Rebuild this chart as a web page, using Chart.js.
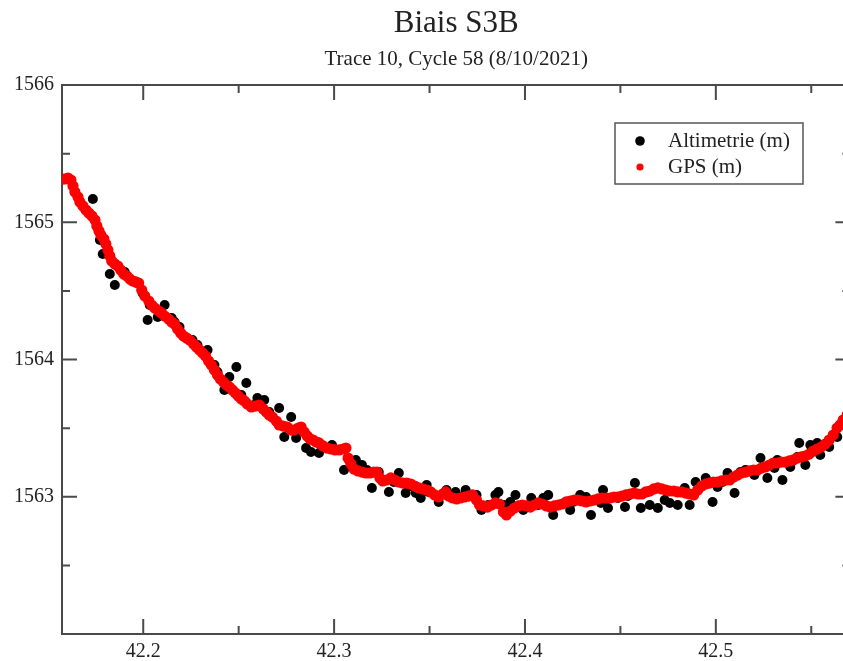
<!DOCTYPE html>
<html>
<head>
<meta charset="utf-8">
<title>Biais S3B</title>
<script src="https://cdn.jsdelivr.net/npm/chart.js@4/dist/chart.umd.min.js"></script>
<style>
  html,body{margin:0;padding:0;background:#fff;overflow:hidden;}
  #wrap{position:relative;width:856px;height:661px;}
</style>
</head>
<body>
<div id="wrap"><canvas id="biais"></canvas></div>
<script>
/* Biais S3B - trace 10, cycle 58 */
const titre = 'Biais S3B';
const sousTitre = 'Trace 10, Cycle 58 (8/10/2021)';
const legendeAlti = 'Altimetrie (m)';
const legendeGps = 'GPS (m)';

const xTicks = [42.2, 42.3, 42.4, 42.5];
const xMinor = [42.25, 42.35, 42.45, 42.55];
const yTicks = [1563, 1564, 1565, 1566];
const yMinor = [1562.5, 1563.5, 1564.5, 1565.5];

// altimetrie (points noirs)
const altiLat = [42.1736,42.1773,42.1788,42.1825,42.1851,42.1903,42.1966,42.1997,42.2023,42.2034,42.2076,42.2112,
  42.2149,42.2164,42.2190,42.2258,42.2284,42.2321,42.2337,42.2373,42.2389,42.2425,42.2451,42.2488,42.2514,42.2540,
  42.2582,42.2598,42.2634,42.2660,42.2712,42.2739,42.2775,42.2801,42.2817,42.2853,42.2879,42.2921,42.2947,42.2989,
  42.3052,42.3078,42.3114,42.3146,42.3172,42.3198,42.3234,42.3261,42.3287,42.3313,42.3339,42.3375,42.3401,42.3428,
  42.3454,42.3485,42.3495,42.3548,42.3589,42.3636,42.3662,42.3689,42.3746,42.3772,42.3809,42.3845,42.3861,42.3887,
  42.3923,42.3950,42.3991,42.4033,42.4070,42.4096,42.4122,42.4148,42.4200,42.4237,42.4252,42.4289,42.4320,42.4346,
  42.4372,42.4398,42.4409,42.4435,42.4487,42.4524,42.4539,42.4576,42.4607,42.4644,42.4654,42.4696,42.4732,42.4759,
  42.4800,42.4837,42.4863,42.4894,42.4905,42.4947,42.4983,42.5009,42.5035,42.5061,42.5098,42.5129,42.5155,42.5166,
  42.5202,42.5234,42.5270,42.5307,42.5322,42.5349,42.5375,42.5390,42.5427,42.5437,42.5469,42.5495,42.5505,42.5531,
  42.5547,42.5573,42.5594,42.5636];
const altiHeight = [1565.169,1564.871,1564.769,1564.623,1564.543,1564.638,1564.557,1564.485,1564.288,1564.397,1564.310,1564.397,
  1564.302,1564.273,1564.237,1564.142,1564.106,1564.047,1564.069,1563.960,1563.909,1563.778,1563.872,1563.945,1563.741,1563.829,
  1563.669,1563.719,1563.705,1563.617,1563.647,1563.435,1563.581,1563.428,1563.486,1563.355,1563.326,1563.319,1563.362,1563.377,
  1563.195,1563.268,1563.268,1563.231,1563.195,1563.064,1563.180,1563.122,1563.035,1563.107,1563.173,1563.027,1563.078,1563.027,
  1562.991,1563.086,1563.035,1562.962,1563.049,1563.035,1562.998,1563.049,1563.013,1562.903,1562.940,1563.013,1563.035,1562.940,
  1562.962,1563.013,1562.903,1562.991,1562.940,1562.991,1563.013,1562.867,1562.947,1562.903,1562.962,1563.013,1562.998,1562.867,
  1562.976,1562.954,1563.049,1562.918,1562.991,1562.925,1563.005,1563.100,1562.918,1563.035,1562.940,1562.918,1562.976,1562.955,
  1562.940,1563.064,1562.940,1563.107,1563.049,1563.137,1562.962,1563.071,1563.107,1563.173,1563.027,1563.180,1563.195,1563.188,
  1563.158,1563.282,1563.137,1563.209,1563.268,1563.122,1563.253,1563.217,1563.290,1563.392,1563.231,1563.377,1563.326,1563.392,
  1563.304,1563.377,1563.362,1563.435];

// GPS (points rouges)
const gpsLat = [42.1574,42.1590,42.1606,42.1621,42.1632,42.1642,42.1658,42.1668,42.1684,42.1700,42.1715,42.1731,
  42.1747,42.1757,42.1768,42.1778,42.1794,42.1804,42.1815,42.1825,42.1835,42.1851,42.1867,42.1882,42.1898,42.1914,
  42.1930,42.1945,42.1961,42.1976,42.1992,42.2008,42.2029,42.2044,42.2060,42.2081,42.2096,42.2112,42.2133,42.2149,
  42.2164,42.2180,42.2196,42.2211,42.2227,42.2243,42.2264,42.2279,42.2295,42.2311,42.2326,42.2342,42.2357,42.2373,
  42.2389,42.2404,42.2420,42.2436,42.2451,42.2467,42.2483,42.2498,42.2514,42.2530,42.2545,42.2566,42.2587,42.2608,
  42.2629,42.2645,42.2660,42.2676,42.2697,42.2712,42.2733,42.2754,42.2775,42.2791,42.2812,42.2827,42.2843,42.2859,
  42.2874,42.2890,42.2906,42.2921,42.2942,42.2963,42.2984,42.3005,42.3026,42.3047,42.3062,42.3073,42.3088,42.3104,
  42.3125,42.3146,42.3167,42.3188,42.3208,42.3224,42.3240,42.3255,42.3276,42.3297,42.3318,42.3339,42.3360,42.3381,
  42.3402,42.3422,42.3443,42.3464,42.3485,42.3506,42.3527,42.3548,42.3569,42.3584,42.3600,42.3621,42.3642,42.3662,
  42.3683,42.3704,42.3725,42.3746,42.3762,42.3783,42.3804,42.3824,42.3845,42.3866,42.3887,42.3903,42.3924,42.3945,
  42.3965,42.3986,42.4007,42.4028,42.4049,42.4070,42.4091,42.4112,42.4132,42.4153,42.4174,42.4195,42.4216,42.4237,
  42.4258,42.4279,42.4299,42.4320,42.4341,42.4362,42.4383,42.4404,42.4425,42.4446,42.4466,42.4487,42.4508,42.4529,
  42.4550,42.4571,42.4592,42.4613,42.4633,42.4654,42.4675,42.4696,42.4717,42.4738,42.4759,42.4780,42.4800,42.4821,
  42.4842,42.4863,42.4884,42.4905,42.4926,42.4947,42.4967,42.4988,42.5009,42.5030,42.5051,42.5072,42.5093,42.5114,
  42.5134,42.5155,42.5176,42.5197,42.5218,42.5239,42.5260,42.5281,42.5301,42.5322,42.5343,42.5364,42.5385,42.5406,
  42.5427,42.5448,42.5468,42.5489,42.5510,42.5531,42.5552,42.5573,42.5594,42.5615,42.5635,42.5651,42.5667,42.5688];
const gpsHeight = [1565.315,1565.315,1565.322,1565.308,1565.264,1565.220,1565.184,1565.148,1565.118,1565.089,1565.067,1565.046,
  1565.016,1564.973,1564.936,1564.907,1564.878,1564.842,1564.798,1564.754,1564.718,1564.696,1564.681,1564.652,1564.623,1564.608,
  1564.587,1564.572,1564.565,1564.557,1564.506,1564.463,1564.426,1564.397,1564.375,1564.353,1564.339,1564.317,1564.295,1564.273,
  1564.259,1564.222,1564.193,1564.171,1564.157,1564.142,1564.113,1564.091,1564.069,1564.047,1564.026,1563.989,1563.960,1563.923,
  1563.887,1563.858,1563.836,1563.814,1563.800,1563.778,1563.756,1563.734,1563.712,1563.698,1563.676,1563.654,1563.661,1563.668,
  1563.639,1563.617,1563.596,1563.581,1563.552,1563.523,1563.515,1563.508,1563.486,1563.486,1563.501,1563.508,1563.472,1563.443,
  1563.421,1563.413,1563.399,1563.392,1563.370,1563.355,1563.348,1563.341,1563.341,1563.348,1563.355,1563.282,1563.239,1563.202,
  1563.188,1563.180,1563.173,1563.173,1563.180,1563.180,1563.137,1563.115,1563.122,1563.137,1563.122,1563.107,1563.100,1563.100,
  1563.093,1563.078,1563.064,1563.057,1563.049,1563.035,1563.013,1562.998,1563.020,1563.035,1563.005,1562.991,1562.984,1562.991,
  1562.998,1563.005,1563.013,1562.976,1562.940,1562.933,1562.925,1562.940,1562.955,1562.947,1562.889,1562.867,1562.896,1562.918,
  1562.933,1562.940,1562.933,1562.925,1562.940,1562.955,1562.947,1562.933,1562.925,1562.933,1562.940,1562.947,1562.962,1562.969,
  1562.976,1562.976,1562.969,1562.962,1562.969,1562.976,1562.984,1562.991,1562.991,1562.991,1562.998,1562.998,1563.005,1563.013,
  1563.020,1563.027,1563.020,1563.020,1563.035,1563.042,1563.057,1563.064,1563.057,1563.049,1563.042,1563.042,1563.035,1563.035,
  1563.027,1563.020,1563.013,1563.049,1563.078,1563.093,1563.100,1563.107,1563.107,1563.115,1563.122,1563.122,1563.144,1563.158,
  1563.173,1563.180,1563.188,1563.195,1563.195,1563.209,1563.217,1563.231,1563.246,1563.246,1563.253,1563.253,1563.261,1563.268,
  1563.282,1563.290,1563.297,1563.311,1563.333,1563.348,1563.362,1563.384,1563.413,1563.450,1563.501,1563.523,1563.559,1563.596];

const toPts = (xs, ys) => xs.map((v,i) => ({x:v, y:ys[i]}));
const SERIF = '"Liberation Serif", "DejaVu Serif", serif';
const AXE = '#4a4a4a';

// cadre + graduations vers l'interieur (style xmgrace)
const cadre = {
  id:'cadre',
  beforeDatasetsDraw(chart){
    const {ctx, chartArea:a, scales:{x, y}} = chart;
    ctx.save();
    ctx.strokeStyle = AXE; ctx.lineWidth = 2;
    ctx.strokeRect(a.left, a.top, a.right-a.left, a.bottom-a.top);
    ctx.beginPath();
    const tx = (v, len) => { const p = x.getPixelForValue(v);
      ctx.moveTo(p, a.bottom); ctx.lineTo(p, a.bottom-len);
      ctx.moveTo(p, a.top); ctx.lineTo(p, a.top+len); };
    const ty = (v, len) => { const p = y.getPixelForValue(v);
      ctx.moveTo(a.left, p); ctx.lineTo(a.left+len, p);
      ctx.moveTo(a.right, p); ctx.lineTo(a.right-len, p); };
    xTicks.forEach(v => tx(v, 15)); xMinor.forEach(v => tx(v, 8));
    yTicks.forEach(v => ty(v, 15)); yMinor.forEach(v => ty(v, 8));
    ctx.stroke();
    ctx.restore();
  }
};

// legende encadree
const legende = {
  id:'legende',
  afterDraw(chart){
    const {ctx, chartArea:a} = chart;
    const bx = a.left + 553, by = a.top + 38, bw = 188, bh = 61;
    ctx.save();
    ctx.fillStyle = '#fff';
    ctx.fillRect(bx, by, bw, bh);
    ctx.strokeStyle = '#555'; ctx.lineWidth = 1.5;
    ctx.strokeRect(bx, by, bw, bh);
    ctx.fillStyle = '#000';
    ctx.beginPath(); ctx.arc(bx+25, by+18, 4.8, 0, Math.PI*2); ctx.fill();
    ctx.fillStyle = '#ff0000';
    ctx.beginPath(); ctx.arc(bx+25, by+44, 3.6, 0, Math.PI*2); ctx.fill();
    ctx.fillStyle = '#222';
    ctx.font = '21px ' + SERIF;
    ctx.textBaseline = 'middle';
    ctx.fillText(legendeAlti, bx+53, by+18);
    ctx.fillText(legendeGps, bx+53, by+44);
    ctx.restore();
  }
};

new Chart(document.getElementById('biais'), {
  type:'scatter',
  data:{datasets:[
    {label:legendeGps, data:toPts(gpsLat, gpsHeight), backgroundColor:'#ff0000', borderWidth:0, pointRadius:5.6},
    {label:legendeAlti, data:toPts(altiLat, altiHeight), backgroundColor:'#000', borderWidth:0, pointRadius:5}
  ]},
  options:{
    responsive:true, maintainAspectRatio:false, animation:false,
    layout:{padding:{top:0, right:3, left:0, bottom:0}},
    plugins:{
      legend:{display:false},
      tooltip:{enabled:false},
      title:{display:true, text:titre, fullSize:false, color:'#222',
        font:{family:SERIF, size:31, weight:'normal'}, padding:{top:5, bottom:4}},
      subtitle:{display:true, text:sousTitre, fullSize:false, color:'#222',
        font:{family:SERIF, size:21, weight:'normal'}, padding:{top:1, bottom:12.6}}
    },
    scales:{
      x:{type:'linear', min:42.15744, max:42.5705,
        grid:{display:false, drawTicks:false}, border:{display:false},
        afterBuildTicks: s => { s.ticks = xTicks.map(v => ({value:v})); },
        afterFit: s => { s.height = 27; },
        ticks:{color:'#222', padding:6, maxRotation:0, font:{family:SERIF, size:20},
          callback: v => v.toFixed(1)}},
      y:{type:'linear', min:1562, max:1566,
        grid:{display:false, drawTicks:false}, border:{display:false},
        afterBuildTicks: s => { s.ticks = yTicks.map(v => ({value:v})); },
        afterFit: s => { s.width = 62; },
        ticks:{color:'#222', padding:8, font:{family:SERIF, size:20},
          callback: v => String(v)}}
    }
  },
  plugins:[cadre, legende]
});
</script>
</body>
</html>
